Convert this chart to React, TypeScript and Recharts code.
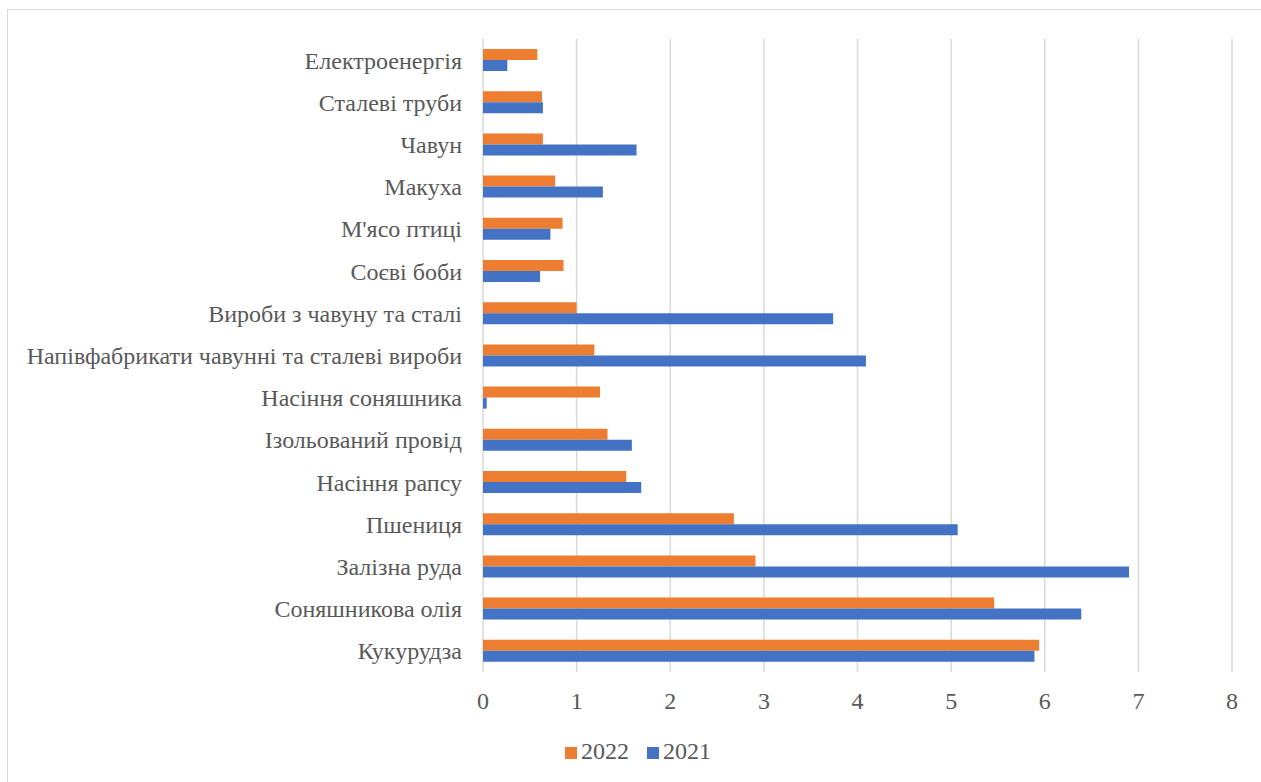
import React from 'react';
import { Bar, BarChart, CartesianGrid, Legend, XAxis, YAxis } from 'recharts';

const categories = [
  'Електроенергія',
  'Сталеві труби',
  'Чавун',
  'Макуха',
  "М'ясо птиці",
  'Соєві боби',
  'Вироби з чавуну та сталі',
  'Напівфабрикати чавунні та сталеві вироби',
  'Насіння соняшника',
  'Ізольований провід',
  'Насіння рапсу',
  'Пшениця',
  'Залізна руда',
  'Соняшникова олія',
  'Кукурудза',
];

const values2022 = [0.58, 0.63, 0.64, 0.77, 0.85, 0.86, 1.0, 1.19, 1.25, 1.33, 1.53, 2.68, 2.91, 5.46, 5.94];
const values2021 = [0.26, 0.64, 1.64, 1.28, 0.72, 0.61, 3.74, 4.09, 0.04, 1.59, 1.69, 5.07, 6.9, 6.39, 5.89];

const xTicks = [0, 1, 2, 3, 4, 5, 6, 7, 8];
const legendOrder = ['2022', '2021'];

const data = categories.map((name, i) => ({
  name,
  y2022: values2022[i],
  y2021: values2021[i],
}));

const font = 'Liberation Serif';
const textColor = '#595959';

const App = () => {
  return (
    <div
      style={{
        position: 'absolute',
        left: 7,
        top: 9,
        width: 1254,
        height: 773,
        borderLeft: '1px solid #d9d9d9',
        borderTop: '1px solid #d9d9d9',
        overflow: 'hidden',
        background: '#fff',
        fontFamily: font,
      }}
    >
      <BarChart
        width={1266}
        height={773}
        data={data}
        layout="vertical"
        barGap={0}
        style={{ fontFamily: font }}
        margin={{ top: 29, right: 42, bottom: 41, left: 0 }}
      >
        <CartesianGrid horizontal={false} stroke="#d9d9d9" strokeWidth={1.5} />
        <XAxis
          type="number"
          domain={[0, 8]}
          ticks={xTicks}
          axisLine={false}
          tickLine={false}
          tickSize={0}
          tickMargin={20}
          height={30}
          tick={{ fill: textColor, fontSize: 24, fontFamily: font }}
        />
        <YAxis
          type="category"
          dataKey="name"
          width={475}
          axisLine={false}
          tickLine={false}
          tickSize={0}
          tickMargin={21}
          interval={0}
          tick={{ fill: textColor, fontSize: 24, fontFamily: font }}
        />
        <Legend
          verticalAlign="bottom"
          height={40}
          iconType="square"
          iconSize={12}
          itemSorter={(item: any) => legendOrder.indexOf(String(item.value))}
          wrapperStyle={{ top: 728, left: 27, fontSize: 24, fontFamily: font }}
          formatter={(value) => (
            <span style={{ color: textColor, marginRight: 8, fontFamily: font }}>{value}</span>
          )}
        />
        <Bar dataKey="y2022" name="2022" fill="#ED7D31" barSize={11} isAnimationActive={false} />
        <Bar dataKey="y2021" name="2021" fill="#4472C4" barSize={11} isAnimationActive={false} />
      </BarChart>
    </div>
  );
};

export default App;
